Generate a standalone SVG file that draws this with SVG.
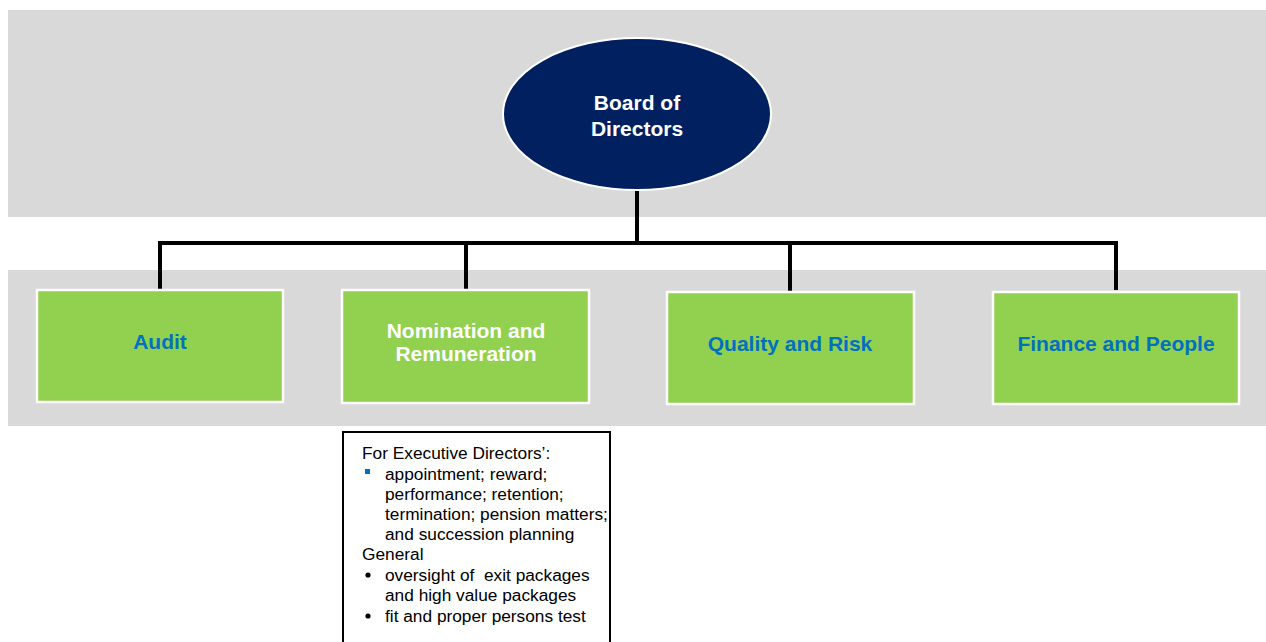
<svg xmlns="http://www.w3.org/2000/svg" width="1266" height="642" viewBox="0 0 1266 642">
  <style>
    .band { fill: #D9D9D9; }
    .box { fill: #92D050; stroke: #FFFFFF; stroke-width: 2.5; }
    .lbl { font-family: "Liberation Sans", Arial, sans-serif; font-weight: bold; font-size: 21px; text-anchor: middle; }
    .blue { fill: #0070C0; }
    .white { fill: #FFFFFF; }
    .conn { fill: none; stroke: #000000; stroke-width: 4; }
    .note { font-family: "Liberation Sans", Arial, sans-serif; font-size: 17.3px; fill: #000000; white-space: pre; }
  </style>

  <!-- background bands -->
  <rect class="band" x="8" y="10" width="1258" height="207"/>
  <rect class="band" x="8" y="270" width="1258" height="156"/>

  <!-- connectors -->
  <g id="connectors">
    <line class="conn" x1="637" y1="190" x2="637" y2="243"/>
    <polyline class="conn" points="160,290 160,243 1116,243 1116,290"/>
    <line class="conn" x1="466" y1="243" x2="466" y2="290"/>
    <line class="conn" x1="790" y1="243" x2="790" y2="292"/>
  </g>

  <g id="board">
    <ellipse cx="637" cy="114" rx="134" ry="76" fill="#002060" stroke="#FFFFFF" stroke-width="2"/>
    <text class="lbl white" x="637" y="110">Board of</text>
    <text class="lbl white" x="637" y="136">Directors</text>
  </g>

  <g id="audit">
    <rect class="box" x="37" y="290" width="246" height="112"/>
    <text class="lbl blue" x="160" y="349">Audit</text>
  </g>

  <g id="nomination">
    <rect class="box" x="342" y="290" width="247" height="113"/>
    <text class="lbl white" x="466" y="338">Nomination and</text>
    <text class="lbl white" x="466" y="361">Remuneration</text>
  </g>

  <g id="quality">
    <rect class="box" x="667" y="292" width="247" height="112"/>
    <text class="lbl blue" x="790" y="351">Quality and Risk</text>
  </g>

  <g id="finance">
    <rect class="box" x="993" y="292" width="246" height="112" stroke-width="4.5"/>
    <text class="lbl blue" x="1116" y="351">Finance and People</text>
  </g>

  <g id="nomination-remit">
    <rect x="343" y="432" width="267" height="220" fill="#FFFFFF" stroke="#000000" stroke-width="2"/>
    <text class="note" x="362" y="459">For Executive Directors’:</text>
    <rect x="365" y="469" width="5" height="5" fill="#0070C0"/>
    <text class="note" x="385" y="480">appointment; reward;</text>
    <text class="note" x="385" y="500">performance; retention;</text>
    <text class="note" x="385" y="520">termination; pension matters;</text>
    <text class="note" x="385" y="540">and succession planning</text>
    <text class="note" x="362" y="560">General</text>
    <circle cx="368" cy="575" r="2.6" fill="#000000"/>
    <text class="note" x="385" y="581">oversight of  exit packages</text>
    <text class="note" x="385" y="601">and high value packages</text>
    <circle cx="368" cy="616" r="2.6" fill="#000000"/>
    <text class="note" x="385" y="622">fit and proper persons test</text>
  </g>
</svg>
